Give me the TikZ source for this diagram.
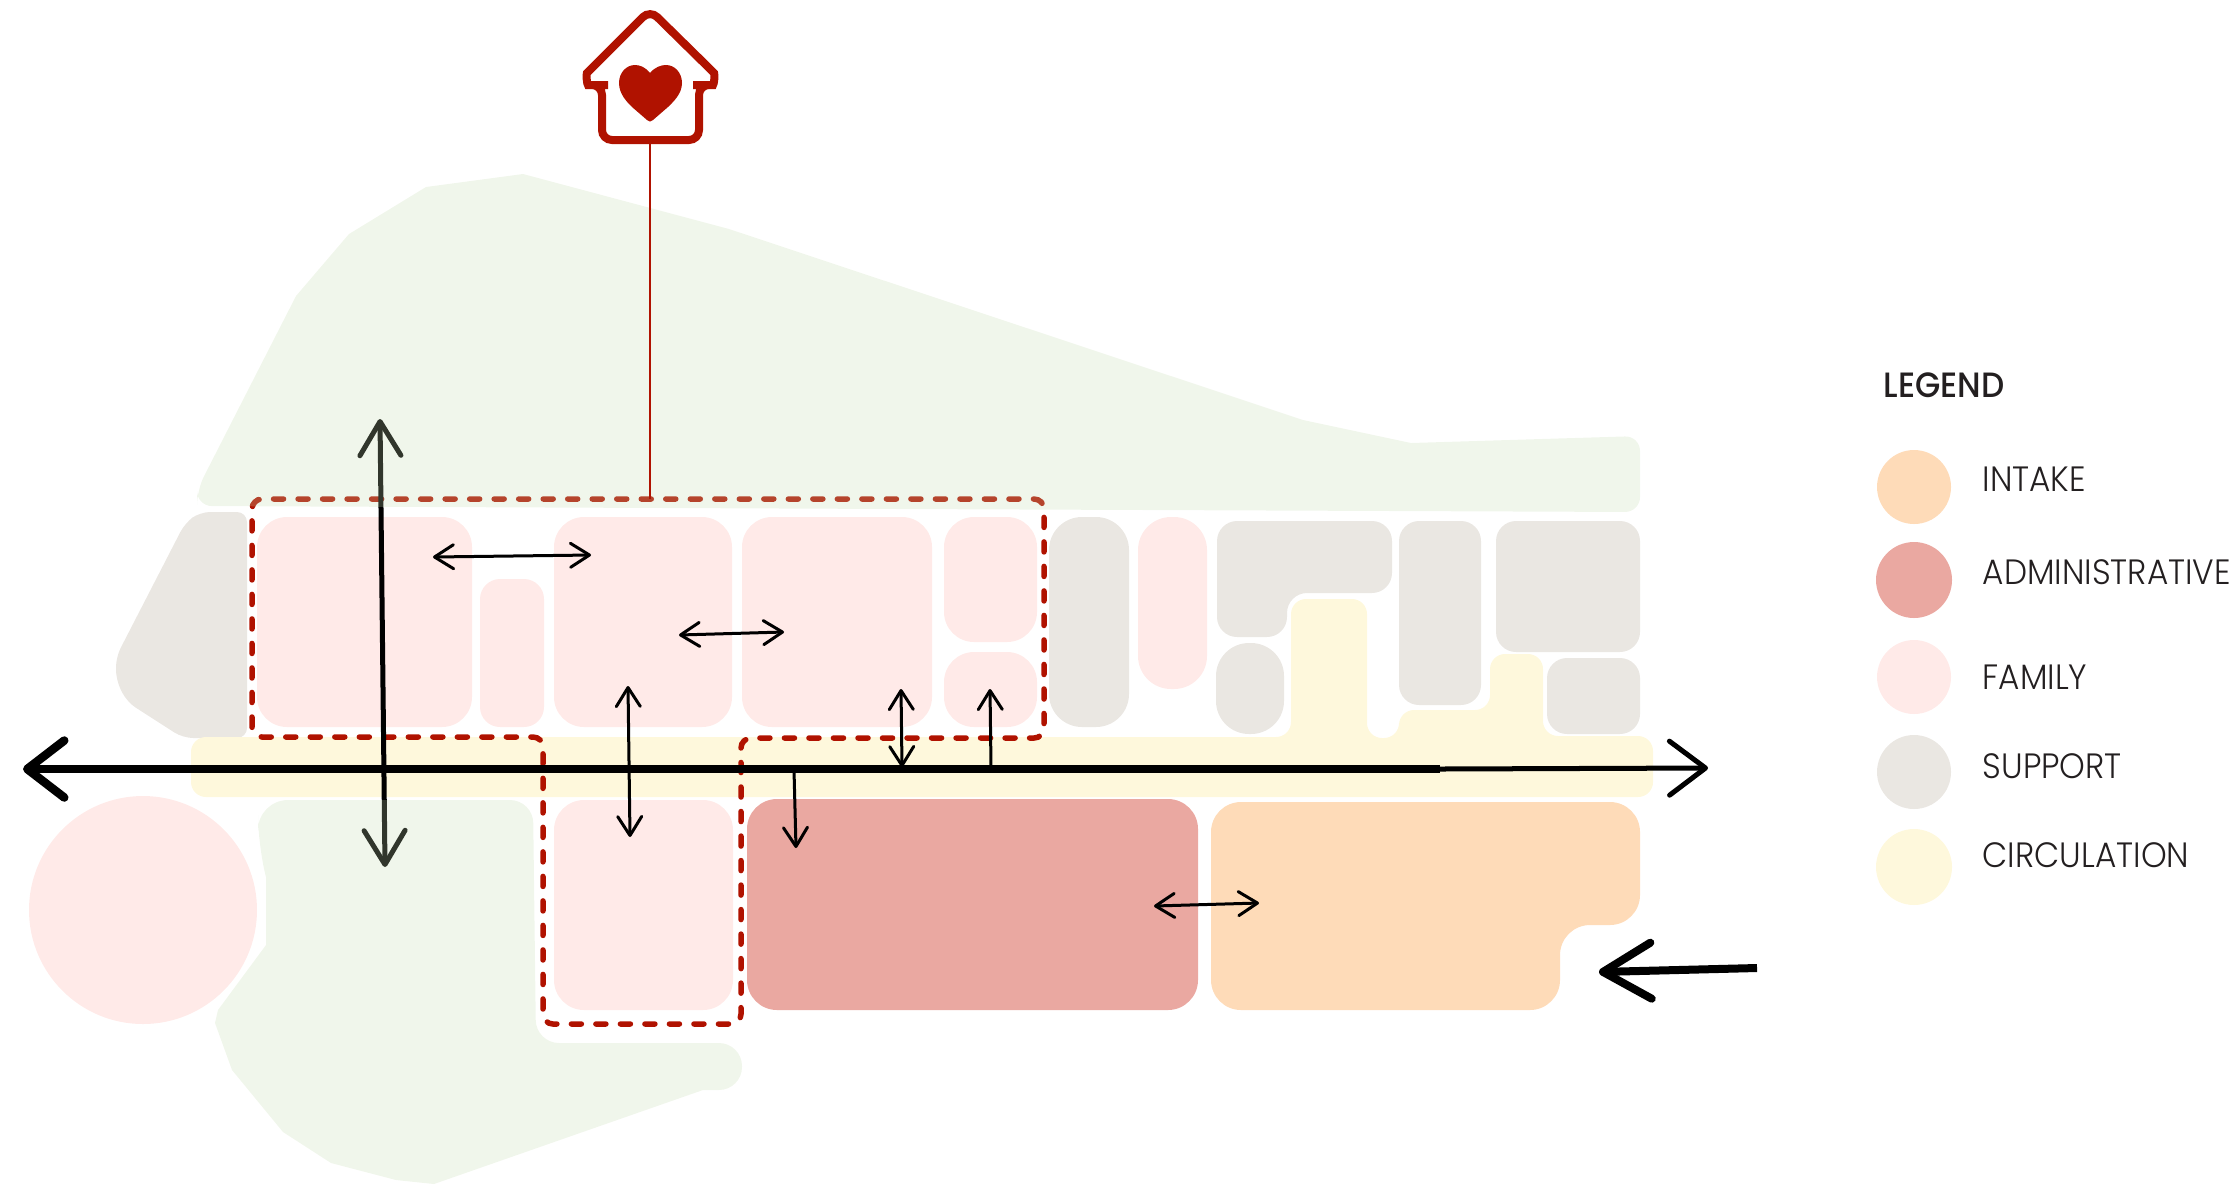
\documentclass[tikz,border=0pt]{standalone}
\usepackage{fontspec}
\setmainfont{Poppins}[UprightFont=* Light, BoldFont=* Medium, FakeStretch=0.93]
\usetikzlibrary{arrows.meta}
\definecolor{redline}{HTML}{B01200}
\definecolor{intakecol}{HTML}{FEDBB8}
\definecolor{admincol}{HTML}{EAA8A1}
\definecolor{familycol}{HTML}{FFEAE8}
\definecolor{supportcol}{HTML}{EAE7E2}
\definecolor{circcol}{HTML}{FEF8DC}
\definecolor{greencol}{HTML}{C4DBB0}
\definecolor{textcol}{HTML}{231F20}
\tikzset{
	familyroom/.style={fill=familycol, rounded corners=#1},
	familyroom/.default=3mm,
	supportroom/.style={fill=supportcol, rounded corners=#1},
	supportroom/.default=2mm,
	smallarrow/.style={line width=0.3mm, line cap=round},
	smallboth/.style={smallarrow, {Straight Barb[length=1.9mm,width=2.4mm,round]}-{Straight Barb[length=1.9mm,width=2.4mm,round]}},
	smallhead/.style={smallarrow, -{Straight Barb[length=1.9mm,width=2.4mm,round]}},
	legendtext/.style={anchor=base west, inner sep=0pt, text=textcol, font=\fontsize{10}{12}\selectfont},
	outsidegreen/.style={fill=greencol, fill opacity=0.25}
}

\begin{document}
\begin{tikzpicture}[x=0.01cm, y=-0.01cm]
			\useasboundingbox (0, 0) rectangle (2240, 1184);
			
			%%%%% ROOMS %%%%%
			
			\fill[familycol] (143, 910) circle (114);
			
			\fill[familyroom] (257, 517) rectangle (472, 727);
			\fill[familyroom=2mm] (480, 579) rectangle (544, 727);
			\fill[familyroom] (554, 517) rectangle (732, 727);
			\fill[familyroom] (742, 517) rectangle (932, 727);
			\fill[familyroom] (944, 517) rectangle (1037, 642);
			\fill[familyroom] (944, 652) rectangle (1037, 727);
			\fill[familyroom=3.3mm] (1138, 517) rectangle (1207, 689);
			\fill[familyroom] (554, 800) rectangle (733, 1010);
			
			\fill[supportroom=3.3mm] (1049, 517) rectangle (1129, 727);
			\fill[supportroom=3.3mm] (1216, 643) rectangle (1284, 734);
			\fill[supportroom] (1399, 521) rectangle (1481, 705);
			\fill[supportroom] (1496, 521) rectangle (1640, 652);
			\fill[supportroom] (1547, 658) rectangle (1640, 734);
			\fill[supportroom] (1217, 521) -- (1392, 521) -- (1392, 593) -- (1287, 593) -- (1287, 637) -- (1217, 637) -- cycle;
			\fill[supportroom=1mm] (247, 512) -- (200, 512) -- (185, 523) -- (116, 657) -- (116, 680) -- (127, 702) -- (183, 738) -- (247, 738) -- cycle;
			
			\fill[circcol, rounded corners=1.5mm] (191, 737) -- (1291, 737) -- (1291, 599) -- (1367, 599) -- (1367, 738) -- (1399, 738) -- (1399, 710) -- (1490, 710) -- (1490, 654) -- (1543, 654) -- (1543, 736) -- (1653, 736) -- (1653, 797) -- (191, 797) -- cycle;
			
			\fill[admincol, rounded corners=3mm] (747, 799) rectangle (1198, 1010);
			\fill[intakecol, rounded corners=3mm] (1211, 802) -- (1640, 802) -- (1640, 925) -- (1560, 925) -- (1560, 1010) -- (1211, 1010) -- cycle;
			
			%%%%% DASHED LINE AND LONG ARROW, BOTH SEEN THROUGH THE GREEN %%%%%
			
			\draw[redline, line width=0.55mm, line cap=round, dash pattern=on 1mm off 1.45mm, rounded corners=1mm] (252, 737) -- (252, 499) -- (1044, 499) -- (1044, 738) -- (741, 738) -- (741, 1024) -- (543, 1024) -- (543, 737) -- cycle;
			
			\coordinate (crossTop) at (380, 419);
			\coordinate (crossBottom) at (385, 867);
			\draw[line width=0.5mm, line cap=round, {Straight Barb[length=3.4mm,width=4.1mm,round]}-{Straight Barb[length=3.4mm,width=4.1mm,round]}] (crossTop) -- (crossBottom);
			
			\fill[outsidegreen, rounded corners=1.5mm] (900, 509) -- (197, 506) -- (197, 490) [sharp corners] -- (296, 296) -- (349, 234) -- (426, 187) -- (523, 174) -- (729, 229) -- (1303, 420) -- (1411, 443) [rounded corners=1.5mm] -- (1640, 436) -- (1640, 512) -- cycle;
			\fill[outsidegreen, rounded corners=3mm] (400, 800) -- (258, 800) -- (258, 845) [sharp corners] -- (266, 877) -- (266, 945) -- (218, 1010) -- (215, 1023) -- (232, 1070) -- (283, 1132) -- (331, 1163) -- (396, 1180) -- (434, 1184) -- (703, 1090) [rounded corners=2.3mm] -- (742, 1090) -- (742, 1043) -- (536, 1043) -- (533, 800) -- cycle;
			
			%%%%% ARROWS %%%%%
			
			\coordinate (mainLeft) at (23, 769);
			\coordinate (mainMid) at (1440, 769);
			\coordinate (mainRight) at (1708, 768);
			\draw[line width=0.5mm, line cap=round, -{Straight Barb[length=3.6mm,width=5.4mm,round]}] (mainMid) -- (mainRight);
			\draw[line width=0.85mm, {Straight Barb[length=3.7mm,width=5.7mm,round]}-] (mainLeft) -- (mainMid);
			
			\coordinate (intakeTail) at (1757, 968);
			\coordinate (intakeTip) at (1599, 972);
			\draw[line width=0.8mm, -{Straight Barb[length=4.8mm,width=5.6mm,round]}] (intakeTail) -- (intakeTip);
			
			\coordinate (familyWest) at (433, 557);
			\coordinate (familyEast) at (591, 555);
			\draw[smallboth] (familyWest) -- (familyEast);
			
			\coordinate (middleWest) at (679, 635);
			\coordinate (middleEast) at (784, 632);
			\draw[smallboth] (middleWest) -- (middleEast);
			
			\coordinate (lowerTop) at (628, 686);
			\coordinate (lowerBottom) at (630, 837);
			\draw[smallboth] (lowerTop) -- (lowerBottom);
			
			\coordinate (hallTop) at (901, 689);
			\coordinate (hallBottom) at (902, 767);
			\draw[smallboth] (hallTop) -- (hallBottom);
			
			\coordinate (roomFoot) at (991, 767);
			\coordinate (roomTip) at (990, 689);
			\draw[smallhead] (roomFoot) -- (roomTip);
			
			\coordinate (adminFoot) at (794, 770);
			\coordinate (adminTip) at (796, 848);
			\draw[smallhead] (adminFoot) -- (adminTip);
			
			\coordinate (adminWest) at (1154, 906);
			\coordinate (intakeEast) at (1259, 903);
			\draw[smallboth] (adminWest) -- (intakeEast);
			
			%%%%% HOUSE %%%%%
			
			\coordinate (houseFoot) at (650, 140);
			\coordinate (dashedTop) at (650, 499);
			\draw[redline, line width=0.25mm] (houseFoot) -- (dashedTop);
			
			\draw[redline, line width=0.8mm, rounded corners=1mm] (650, 140) -- (602, 140) -- (602, 85) -- (598, 85) .. controls (587, 85) and (586, 74) .. (594, 66) -- (650, 10) -- (707, 66) .. controls (715, 74) and (714, 85) .. (703, 85) -- (699, 85) -- (699, 140) -- cycle;
			\fill[redline] (650, 73) .. controls (645, 67) and (640, 65) .. (635, 65) .. controls (626, 65) and (619, 73) .. (619, 83) .. controls (619, 94) and (627, 102) .. (632, 107) -- (647, 120) .. controls (649, 122) and (651, 122) .. (653, 120) -- (668, 107) .. controls (673, 102) and (682, 94) .. (682, 83) .. controls (682, 73) and (675, 65) .. (666, 65) .. controls (661, 65) and (655, 67) .. (650, 73) -- cycle;
			
			%%%%% LEGEND %%%%%
			
			\node[legendtext, font=\fontsize{10}{12}\selectfont\bfseries] (legendTitle) at (1883, 397) {LEGEND};
			
			\fill[intakecol] (1914, 487) circle (37);
			\node[legendtext] (legendIntake) at (1982, 491) {INTAKE};
			
			\fill[admincol] (1914, 580) circle (38);
			\node[legendtext] (legendAdmin) at (1982, 584) {ADMINISTRATIVE};
			
			\fill[familycol] (1914, 677) circle (37);
			\node[legendtext] (legendFamily) at (1982, 689) {FAMILY};
			
			\fill[supportcol] (1914, 772) circle (37);
			\node[legendtext] (legendSupport) at (1982, 778) {SUPPORT};
			
			\fill[circcol] (1914, 867) circle (38);
			\node[legendtext] (legendCirc) at (1982, 867) {CIRCULATION};
			
\end{tikzpicture}
\end{document}
